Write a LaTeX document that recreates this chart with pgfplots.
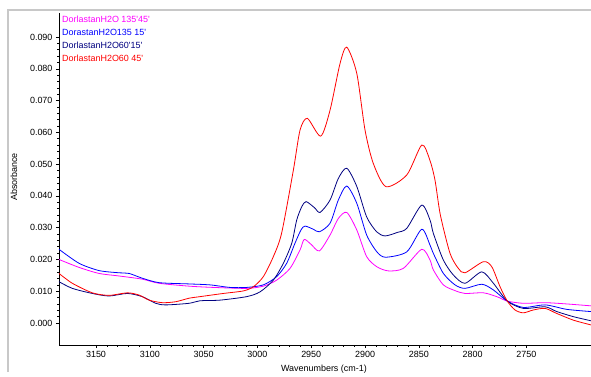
\documentclass[border=0pt]{standalone}
\usepackage{pgfplots}
\pgfplotsset{compat=1.18}
\usepackage{fontspec}
\setmainfont{Liberation Sans}

\definecolor{magentaline}{RGB}{255,0,255}
\definecolor{blueline}{RGB}{0,0,255}
\definecolor{navyline}{RGB}{0,0,128}
\definecolor{redline}{RGB}{255,0,0}
\definecolor{framegray}{RGB}{200,200,200}

\begin{document}
\begin{tikzpicture}[x=1bp,y=1bp]
\path[use as bounding box] (0,0) rectangle (591,376);
\draw[framegray, line width=1.6bp] (8,4) -- (8,366) -- (591,366);
\begin{axis}[
  at={(59bp,31bp)}, anchor=south west,
  scale only axis, width=532bp, height=332bp,
  x dir=reverse,
  xmin=2690, xmax=3184.4,
  ymin=-0.00692, ymax=0.09755,
  axis x line*=bottom, axis y line*=left,
  axis line style={-, black, line width=0.5bp},
  xtick={2750,2800,...,3150},
  ytick={0,0.01,...,0.09},
  minor x tick num=4, minor y tick num=4,
  tick align=outside,
  major tick length=3bp, minor tick length=1.5bp,
  tick style={black, line width=0.5bp},
  scaled y ticks=false,
  xticklabel style={/pgf/number format/1000 sep={}},
  yticklabel style={/pgf/number format/fixed, /pgf/number format/fixed zerofill, /pgf/number format/precision=3},
  /pgf/number format/assume math mode=true,
  tick label style={font=\fontsize{9}{10}\selectfont},
  label style={font=\fontsize{9}{10}\selectfont},
  xlabel={Wavenumbers (cm-1)},
  ylabel={Absorbance},
  xlabel style={at={(axis description cs:0.498,-0.072)}, anchor=center},
  ylabel style={at={(axis description cs:-0.0846,0.506)}, anchor=center},
  legend style={draw=none, fill=none, at={(axis description cs:0.0,1.0)}, anchor=north west,
    font=\fontsize{9}{10}\selectfont, inner sep=1pt, row sep=1bp,
    /tikz/every even column/.append style={column sep=0pt}},
  legend cell align=left,
  legend image code/.code={},
  every axis plot/.append style={line width=0.8bp, smooth, tension=0.45},
]
% DorlastanH2O 135'45'
\addplot[magentaline] coordinates {
(3184.4,0.0200) (3165.8,0.0175) (3147.2,0.0156) (3128.6,0.0148) (3107.0,0.0138)
(3091.4,0.0125) (3063.6,0.0116) (3041.0,0.0112) (3010.0,0.0109) (2994.5,0.0116)
(2982.1,0.0135) (2969.7,0.0172) (2960.4,0.0230) (2956.5,0.0263) (2950,0.0247)
(2942.4,0.0227) (2932.5,0.0277) (2924.8,0.0329) (2917.0,0.0348) (2907.7,0.0293)
(2898.5,0.0209) (2889,0.0177) (2878.3,0.0164) (2864.4,0.0172) (2847.3,0.0232)
(2839.6,0.0198) (2836.5,0.0167) (2827.2,0.0120) (2816.4,0.0102) (2807.1,0.0093)
(2790.0,0.0095) (2777.6,0.0083) (2767.8,0.0069) (2752.9,0.0062) (2732.7,0.0064)
(2712.6,0.0060) (2690.0,0.0054)};
% DorastanH2O135 15'
\addplot[blueline] coordinates {
(3184.4,0.0232) (3165.8,0.0188) (3147.2,0.0165) (3128.6,0.0158) (3119.3,0.0156)
(3107.0,0.0141) (3091.4,0.0127) (3063.6,0.0123) (3044.1,0.0120) (3025.5,0.0112)
(3010.0,0.0112) (2994.5,0.0120) (2982.1,0.0146) (2972.8,0.0188) (2965.1,0.0251)
(2959.5,0.0293) (2955.8,0.0305) (2948,0.0295) (2942.4,0.0287) (2932.5,0.0314)
(2924.8,0.0387) (2917.0,0.0431) (2907.7,0.0377) (2898.5,0.0277) (2889,0.0224)
(2881,0.0207) (2861.2,0.0224) (2847.3,0.0295) (2839.6,0.0245) (2836.5,0.0219)
(2827.2,0.0156) (2816.4,0.0120) (2807.1,0.0109) (2791.5,0.0122) (2780.7,0.0104)
(2767.8,0.0069) (2752.9,0.0049) (2732.7,0.0057) (2712.6,0.0043) (2690.0,0.0036)};
% DorlastanH2O60'15'
\addplot[navyline] coordinates {
(3184.4,0.0130) (3172.0,0.0109) (3153.4,0.0093) (3137.9,0.0085) (3120.9,0.0093)
(3107.0,0.0083) (3094.5,0.0062) (3085.2,0.0057) (3063.6,0.0062) (3053.3,0.0070)
(3034.8,0.0072) (3010.0,0.0083) (2997.6,0.0098) (2985.2,0.0135) (2975.9,0.0188)
(2968.1,0.0251) (2963.5,0.0324) (2958.8,0.0366) (2954.8,0.0382) (2947,0.0363)
(2941.8,0.0348) (2932.5,0.0387) (2924.8,0.0455) (2917.0,0.0487) (2907.7,0.0430)
(2898.5,0.0334) (2889.2,0.0287) (2881.4,0.0274) (2870,0.0285) (2861.2,0.0298)
(2847.3,0.0371) (2839.6,0.0324) (2836.5,0.0282) (2827.2,0.0198) (2817.9,0.0151)
(2807.1,0.0125) (2791.5,0.0161) (2780.7,0.0125) (2767.8,0.0069) (2752.9,0.0046)
(2732.7,0.0051) (2721.8,0.0036) (2706.4,0.0020) (2690.0,0.0007)};
% DorlastanH2O60 45'
\addplot[redline] coordinates {
(3184.4,0.0156) (3172.0,0.0125) (3153.4,0.0095) (3137.9,0.0087) (3120.9,0.0095)
(3110.0,0.0088) (3100.7,0.0072) (3088.4,0.0064) (3075.9,0.0067) (3063.6,0.0078)
(3053.3,0.0083) (3031.7,0.0093) (3013.1,0.0101) (3003.8,0.0114) (2994.5,0.0146)
(2985.2,0.0209) (2977.5,0.0283) (2966.6,0.0481) (2960.4,0.0607) (2953.6,0.0644)
(2941.2,0.0588) (2932.5,0.0670) (2923.2,0.0817) (2917.0,0.0868) (2907.7,0.0786)
(2900.0,0.0607) (2892.3,0.0502) (2880.5,0.0429) (2861.2,0.0466) (2847.3,0.0560)
(2840,0.0515) (2835,0.0450) (2830,0.0340) (2821,0.0219) (2813.3,0.0172)
(2807.1,0.0158) (2790.0,0.0193) (2782.2,0.0177) (2774.5,0.0114) (2767.8,0.0069)
(2760.6,0.0041) (2752.9,0.0032) (2743.6,0.0041) (2732.7,0.0046) (2721.8,0.0030)
(2706.4,0.0009) (2690.0,-0.0006)};
\legend{\textcolor{magentaline}{DorlastanH2O 135\textquotesingle45\textquotesingle},
        \textcolor{blueline}{DorastanH2O135 15\textquotesingle},
        \textcolor{navyline}{DorlastanH2O60\textquotesingle15\textquotesingle},
        \textcolor{redline}{DorlastanH2O60 45\textquotesingle}}
\end{axis}
\end{tikzpicture}
\end{document}
